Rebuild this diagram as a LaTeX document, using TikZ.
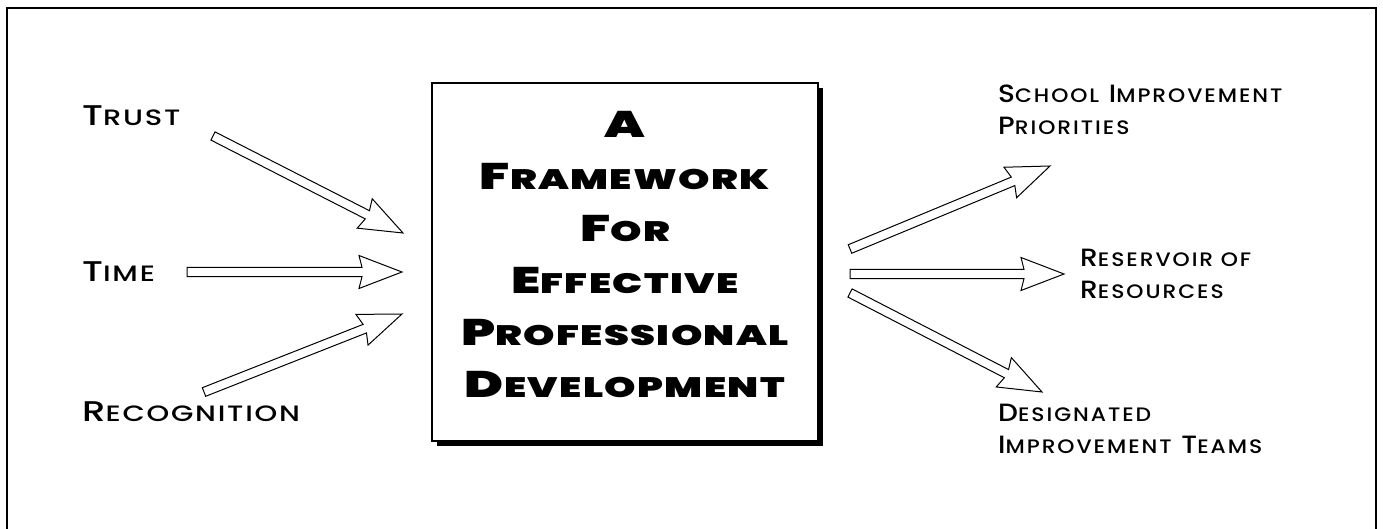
\documentclass[tikz,border=0pt]{standalone}
\usepackage{fontspec}
\usetikzlibrary{calc,shadows}
\IfFontExistsTF{Poppins Medium}{\def\labname{Poppins Medium}}{\def\labname{Poppins}}
\IfFontExistsTF{Poppins Black}{\def\boxname{Poppins Black}}{\IfFontExistsTF{Poppins ExtraBold}{\def\boxname{Poppins ExtraBold}}{\def\boxname{Poppins Bold}}}
\newfontfamily\labf{\labname}[FakeStretch=1.3,LetterSpace=8]
\newfontfamily\labfs{\labname}[Scale=0.78,FakeStretch=1.3,LetterSpace=8]
\newfontfamily\rlabf{\labname}[FakeStretch=1.12,LetterSpace=10]
\newfontfamily\rlabfs{\labname}[Scale=0.78,FakeStretch=1.12,LetterSpace=10]
\newfontfamily\boxf{\boxname}[FakeStretch=1.42,LetterSpace=5]
\newfontfamily\boxfs{\boxname}[Scale=0.76,FakeStretch=1.42,LetterSpace=5]
\newcommand\lsc[2]{#1{\labfs #2}}
\newcommand\rsc[2]{#1{\rlabfs #2}}
\newcommand\bsc[2]{#1{\boxfs #2}}
\newcommand\blockarrow[2]{%
  \coordinate (#1n) at ($(#2)!40pt!(#1)$);
  \coordinate (#1s) at ($(#2)!43pt!(#1)$);
  \draw[blockarr] ($(#1)!4.6pt!90:(#2)$) -- ($(#1n)!4.6pt!90:(#2)$) -- ($(#1s)!16.5pt!90:(#2)$)
    -- (#2) -- ($(#1s)!16.5pt!-90:(#2)$) -- ($(#1n)!4.6pt!-90:(#2)$) -- ($(#1)!4.6pt!-90:(#2)$) -- cycle;}
\begin{document}
\begin{tikzpicture}[x=1pt,y=-1pt,
  frame/.style={draw,line width=1.4pt},
  blockarr/.style={draw,fill=white,line width=1pt,line join=miter},
  mainbox/.style={draw,line width=1.3pt,fill=white,minimum width=386pt,minimum height=358pt,
    drop shadow={fill=black,opacity=1,shadow xshift=5pt,shadow yshift=-5pt}},
  boxtext/.style={align=center,inner sep=0pt,font=\fontsize{37}{52}\selectfont\boxf},
  lab/.style={inner sep=0pt,align=left,font=\fontsize{28.5}{36}\selectfont\labf},
  rlab/.style={inner sep=0pt,align=left,font=\fontsize{25}{32}\selectfont\rlabf}]
\useasboundingbox (0,0) rectangle (1383,529);
\draw[frame] (7,560) -- (7,8) -- (1376,8) -- (1376,560);
% central box
\node[mainbox] (box) at (625,262) {};
\node[boxtext,anchor=north] (title) at (625,111) {\bsc{A}{}\\\bsc{F}{RAMEWORK}\\\bsc{F}{OR}\\\bsc{E}{FFECTIVE}\\\bsc{P}{ROFESSIONAL}\\\bsc{D}{EVELOPMENT}};
% left labels
\node[lab,anchor=base west] (trust) at (82,126) {\lsc{T}{RUST}};
\node[lab,anchor=base west] (time) at (82,281) {\lsc{T}{IME}};
\node[lab,anchor=base west] (recog) at (82,421) {\lsc{R}{ECOGNITION}};
% right labels
\node[rlab,anchor=north west] (school) at (998,85) {\rsc{S}{CHOOL} \rsc{I}{MPROVEMENT}\\\rsc{P}{RIORITIES}};
\node[rlab,anchor=north west] (reserv) at (1080,249) {\rsc{R}{ESERVOIR OF}\\\rsc{R}{ESOURCES}};
\node[rlab,anchor=north west] (desig) at (998,404) {\rsc{D}{ESIGNATED}\\\rsc{I}{MPROVEMENT} \rsc{T}{EAMS}};
% arrow ends
\coordinate (trA) at (213,136);  \coordinate (trB) at (403,233);
\coordinate (tiA) at (187,272);  \coordinate (tiB) at (402,272);
\coordinate (reA) at (204,392);  \coordinate (reB) at (402,314);
\coordinate (scA) at (850,249);  \coordinate (scB) at (1050,166);
\coordinate (rsA) at (850,274);  \coordinate (rsB) at (1064,274);
\coordinate (deA) at (850,293);  \coordinate (deB) at (1042,392);
\blockarrow{trA}{trB}
\blockarrow{tiA}{tiB}
\blockarrow{reA}{reB}
\blockarrow{scA}{scB}
\blockarrow{rsA}{rsB}
\blockarrow{deA}{deB}
\end{tikzpicture}
\end{document}
